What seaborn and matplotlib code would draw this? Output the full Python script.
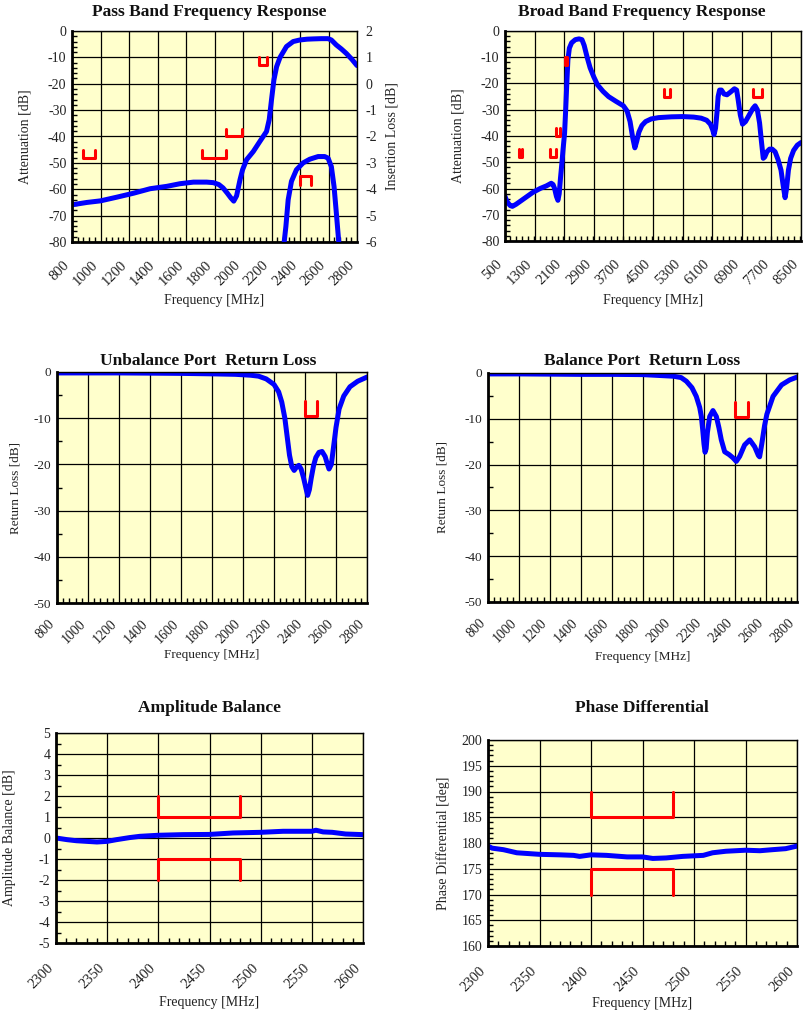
import numpy as np
import pandas as pd
import matplotlib
matplotlib.use("Agg")
import matplotlib.pyplot as plt
from matplotlib.ticker import MultipleLocator
from matplotlib.transforms import ScaledTranslation
import seaborn as sns

# ---------------- data ----------------
# Pass band (attenuation, left axis)
PB_F = [800, 905, 1000, 1115, 1232, 1348, 1465, 1558, 1652, 1745, 1792, 1830, 1860, 1890,
        1915, 1935, 1955, 1979, 1997, 2025, 2072, 2118, 2165, 2184, 2200, 2217, 2236, 2260,
        2305, 2352, 2399, 2450, 2492, 2550, 2597, 2620, 2655, 2690, 2725, 2765, 2800]
PB_ATT = [-65.9, -65.0, -64.4, -63.0, -61.5, -59.8, -58.9, -57.9, -57.3, -57.3, -57.5, -58.2,
          -59.5, -61.5, -63.3, -64.5, -62.5, -56.4, -52.6, -48.8, -45.7, -41.9, -38.1, -33.6,
          -26.1, -18.5, -13.5, -10.0, -5.9, -4.0, -3.4, -3.1, -3.0, -2.9, -2.9, -3.4, -5.3,
          -6.8, -8.5, -10.8, -13.1]
# Pass band insertion loss (right axis)
PB_IL_F = [2280, 2289, 2301, 2317, 2340, 2375, 2422, 2469, 2527, 2573, 2597, 2620, 2639,
           2655, 2672, 2680]
PB_IL = [-7.0, -6.0, -5.41, -4.4, -3.7, -3.26, -3.0, -2.86, -2.76, -2.76, -2.82, -3.14,
         -3.9, -4.9, -6.0, -7.0]
PB_XTICKS = [800, 1000, 1200, 1400, 1600, 1800, 2000, 2200, 2400, 2600, 2800]
PB_YTICKS = [0, -10, -20, -30, -40, -50, -60, -70, -80]
PB_IL_TICKS = [2, 1, 0, -1, -2, -3, -4, -5, -6]
PB_SPEC_F1 = [880, 1710, 1880, 2110]
PB_SPEC_F2 = [960, 1880, 1990, 2170]
PB_SPEC_TOP = [-45, -45, -37, -10]
PB_SPEC_BOT = [-48, -48, -40, -13]
PB_IL_SPEC_F = [2400, 2480]
PB_IL_SPEC_LIM = [-3.5, -3.85]

# Broad band
BB_F = [500, 554, 640, 700, 800, 900, 1050, 1250, 1450, 1620, 1750, 1800, 1840, 1890, 1930,
        1965, 2000, 2040, 2070, 2110, 2140, 2170, 2200, 2240, 2300, 2400, 2500, 2580, 2640,
        2720, 2800, 2900, 3000, 3150, 3300, 3500, 3700, 3800, 3880, 3950, 4010, 4060, 4120,
        4200, 4300, 4450, 4650, 5000, 5300, 5600, 5800, 5950, 6050, 6110, 6150, 6190, 6230,
        6260, 6300, 6350, 6420, 6500, 6600, 6700, 6760, 6800, 6860, 6920, 7000, 7100, 7200,
        7260, 7320, 7380, 7430, 7480, 7520, 7580, 7650, 7720, 7800, 7880, 7960, 8020, 8070,
        8110, 8160, 8220, 8300, 8400, 8500]
BB_ATT = [-63.0, -65.0, -66.5, -66.8, -66.0, -65.0, -63.5, -61.5, -60.0, -59.0, -58.0,
          -58.5, -60.0, -63.0, -64.5, -62.0, -56.0, -50.0, -45.0, -39.0, -30.0, -20.0, -11.0,
          -6.5, -4.5, -3.3, -3.0, -3.3, -5.5, -10.0, -14.0, -17.5, -20.5, -23.0, -25.0, -26.8,
          -28.5, -30.5, -34.5, -40.5, -44.5, -42.0, -38.5, -36.0, -34.5, -33.5, -33.0, -32.7,
          -32.6, -32.8, -33.2, -34.0, -35.5, -37.5, -39.5, -37.0, -31.0, -25.0, -22.5, -22.5,
          -24.0, -24.3, -23.2, -22.0, -22.5, -26.0, -32.0, -35.5, -34.5, -32.0, -29.5, -28.5,
          -30.0, -35.0, -42.0, -48.5, -48.0, -46.0, -45.0, -45.0, -46.0, -49.0, -53.0, -59.0,
          -63.5, -60.0, -53.0, -48.5, -45.5, -43.5, -42.5]
BB_XTICKS = [500, 1300, 2100, 2900, 3700, 4500, 5300, 6100, 6900, 7700, 8500]
BB_YTICKS = PB_YTICKS
BB_SPEC_F1 = [880, 1710, 1880, 2110, 4800, 7200]
BB_SPEC_F2 = [960, 1880, 1990, 2170, 4960, 7440]
BB_SPEC_TOP = [-45, -45, -37, -10, -22, -22]
BB_SPEC_BOT = [-48, -48, -40, -13, -25, -25]

# Unbalance port return loss
UR_F = [800, 1000, 1200, 1400, 1600, 1800, 1950, 2050, 2100, 2150, 2200, 2230, 2250, 2270,
        2285, 2300, 2315, 2330, 2345, 2360, 2375, 2390, 2405, 2417, 2428, 2440, 2455, 2470,
        2490, 2510, 2530, 2545, 2555, 2570, 2585, 2600, 2620, 2650, 2690, 2740, 2800]
UR_RL = [-0.2, -0.2, -0.2, -0.25, -0.3, -0.4, -0.5, -0.7, -0.9, -1.5, -2.7, -4.3, -6.5,
         -10.0, -14.0, -18.0, -20.5, -21.3, -20.6, -20.2, -21.0, -22.8, -25.0, -26.7, -25.5,
         -23.0, -20.3, -18.5, -17.4, -17.2, -18.3, -20.0, -21.0, -20.0, -16.0, -12.0, -8.0,
         -5.2, -3.2, -2.0, -1.1]
# Balance port return loss
BR_F = [800, 1000, 1200, 1400, 1600, 1800, 2000, 2050, 2084, 2120, 2148, 2170, 2181, 2190,
        2198, 2205, 2212, 2220, 2235, 2256, 2278, 2295, 2310, 2332, 2360, 2385, 2407, 2429,
        2461, 2494, 2526, 2550, 2558, 2572, 2590, 2605, 2645, 2700, 2753, 2800]
BR_RL = [-0.2, -0.2, -0.25, -0.3, -0.3, -0.35, -0.7, -1.0, -1.8, -3.2, -5.1, -7.5, -9.5,
         -12.5, -15.5, -17.3, -16.5, -13.0, -9.5, -8.2, -9.5, -12.0, -14.6, -17.2, -17.8,
         -18.5, -19.3, -18.2, -15.7, -14.6, -16.1, -18.0, -18.3, -15.5, -11.5, -9.0, -5.1,
         -2.6, -1.5, -0.9]
RL_XTICKS = PB_XTICKS
RL_YTICKS = [0, -10, -20, -30, -40, -50]
RL_SPEC_F = [2400, 2480]
RL_SPEC_TOP = -6.3
RL_SPEC_BOT = -9.5

# Amplitude balance
AB_F = [2300, 2311, 2320, 2340, 2350, 2359, 2372, 2382, 2400, 2424, 2450, 2473, 2500, 2522,
        2550, 2554, 2561, 2570, 2583, 2600]
AB_DB = [0.0, -0.08, -0.13, -0.19, -0.16, -0.08, 0.02, 0.08, 0.13, 0.16, 0.17, 0.24, 0.27,
         0.32, 0.32, 0.37, 0.29, 0.27, 0.19, 0.16]
AB_XTICKS = [2300, 2350, 2400, 2450, 2500, 2550, 2600]
AB_YTICKS = [5, 4, 3, 2, 1, 0, -1, -2, -3, -4, -5]
AB_SPEC_F = [2400, 2480]
AB_SPEC_UP = [2, 1]
AB_SPEC_LO = [-1, -2]

# Phase differential
PD_F = [2300, 2304, 2315, 2328, 2350, 2370, 2383, 2389, 2400, 2415, 2435, 2450, 2460, 2473,
        2489, 2509, 2518, 2531, 2550, 2564, 2576, 2589, 2600]
PD_DEG = [179.4, 179.0, 178.7, 178.1, 177.8, 177.7, 177.6, 177.4, 177.7, 177.6, 177.3,
          177.3, 177.0, 177.1, 177.4, 177.6, 178.1, 178.4, 178.6, 178.5, 178.7, 178.9, 179.4]
PD_XTICKS = AB_XTICKS
PD_YTICKS = [200, 195, 190, 185, 180, 175, 170, 165, 160]
PD_SPEC_F = [2400, 2480]
PD_SPEC_UP = [190, 185]
PD_SPEC_LO = [175, 170]

# ---------------- style ----------------
sns.set_theme(style="ticks")
plt.rcParams["font.family"] = ["Liberation Serif", "DejaVu Serif"]

BG = "#FFFFCC"
BLUE = "#0000FF"
RED = "#FF0000"
W, H = 806, 1011
fig = plt.figure(figsize=(W / 100, H / 100), dpi=100)


def add_ax(l, r, t, b):
    return fig.add_axes([l / W, 1 - b / H, (r - l) / W, (b - t) / H])


def style(ax, xticks, xminor, yticks, yminor, xlabel, ylabel, xl_y, yl_x, fs=10.5, yfs=10,
          lfs=10, xpad=12, xshift=-5):
    ax.set_facecolor(BG)
    ax.set_axisbelow(True)
    ax.set_xlim(min(xticks), max(xticks))
    ax.set_ylim(min(yticks), max(yticks))
    ax.set_xticks(xticks)
    ax.set_xticklabels([str(v) for v in xticks], rotation=45, ha="right", va="top",
                       fontsize=fs)
    off = ScaledTranslation(xshift / 100, 0, fig.dpi_scale_trans)
    for lab in ax.get_xticklabels():
        lab.set_transform(lab.get_transform() + off)
    ax.set_yticks(yticks)
    ax.set_yticklabels([str(v) for v in yticks], fontsize=yfs)
    ax.xaxis.set_minor_locator(MultipleLocator(xminor))
    ax.yaxis.set_minor_locator(MultipleLocator(yminor))
    ax.tick_params(which="major", direction="in", length=0, pad=4, colors="#222222")
    ax.tick_params(axis="x", which="major", pad=xpad)
    ax.tick_params(which="minor", direction="in", length=3.5, width=1.0, color="black")
    ax.grid(True, which="major", color="black", linewidth=0.9)
    for s in ["left", "bottom"]:
        ax.spines[s].set_linewidth(2.0)
        ax.spines[s].set_color("black")
    for s in ["top", "right"]:
        ax.spines[s].set_linewidth(1.0)
        ax.spines[s].set_color("black")
    ax.set_xlabel(xlabel, fontsize=lfs, color="#222222")
    ax.set_ylabel(ylabel, fontsize=lfs, color="#222222")
    ax.xaxis.set_label_coords(0.5, xl_y)
    ax.xaxis.label.set_va("center")
    ax.yaxis.set_label_coords(yl_x, 0.5)
    ax.yaxis.label.set_va("center")


def title(x, y, text):
    fig.text(x / W, 1 - y / H, text, ha="center", va="center", fontsize=12.5,
             fontweight="bold", color="#111111")


def curve(ax, f, v):
    df = pd.DataFrame({"f": f, "v": v})
    sns.lineplot(data=df, x="f", y="v", ax=ax, color=BLUE, linewidth=3.6,
                 estimator=None, sort=False, legend=False)


def spec_cup(ax, f1, f2, top, bot):
    df = pd.DataFrame({"f": [f1, f1, f2, f2], "v": [top, bot, bot, top]})
    sns.lineplot(data=df, x="f", y="v", ax=ax, color=RED, linewidth=2.2,
                 estimator=None, sort=False, legend=False)


def spec_cap(ax, f1, f2, top, bot):
    df = pd.DataFrame({"f": [f1, f1, f2, f2], "v": [bot, top, top, bot]})
    sns.lineplot(data=df, x="f", y="v", ax=ax, color=RED, linewidth=2.2,
                 estimator=None, sort=False, legend=False)


# ---- Chart 1: pass band ----
ax1 = add_ax(72, 357, 31, 242)
curve(ax1, PB_F, PB_ATT)
for a, b, t, bo in zip(PB_SPEC_F1, PB_SPEC_F2, PB_SPEC_TOP, PB_SPEC_BOT):
    spec_cup(ax1, a, b, t, bo)
style(ax1, PB_XTICKS, 40, PB_YTICKS, 2, "Frequency [MHz]", "Attenuation [dB]",
      -0.275, -0.165)
ax1b = ax1.twinx()
curve(ax1b, PB_IL_F, PB_IL)
spec_cap(ax1b, PB_IL_SPEC_F[0], PB_IL_SPEC_F[1], PB_IL_SPEC_LIM[0], PB_IL_SPEC_LIM[1])
ax1b.set_ylim(min(PB_IL_TICKS), max(PB_IL_TICKS))
ax1b.set_yticks(PB_IL_TICKS)
ax1b.set_yticklabels([str(v) for v in PB_IL_TICKS], fontsize=10)
ax1b.tick_params(direction="in", length=0, pad=6, colors="#222222")
ax1b.set_ylabel("Insertion Loss [dB]", fontsize=10, color="#222222")
ax1b.yaxis.set_label_coords(1.123, 0.5)
ax1b.yaxis.label.set_va("center")
ax1b.grid(False)
for s in ax1b.spines.values():
    s.set_visible(False)
title(209, 12, "Pass Band Frequency Response")

# ---- Chart 2: broad band ----
ax2 = add_ax(505, 801, 31, 241)
curve(ax2, BB_F, BB_ATT)
for a, b, t, bo in zip(BB_SPEC_F1, BB_SPEC_F2, BB_SPEC_TOP, BB_SPEC_BOT):
    spec_cup(ax2, a, b, t, bo)
style(ax2, BB_XTICKS, 160, BB_YTICKS, 2, "Frequency [MHz]", "Attenuation [dB]",
      -0.281, -0.159)
title(642, 12, "Broad Band Frequency Response")

# ---- Chart 3: unbalance port RL ----
ax3 = add_ax(57, 367, 372, 603)
curve(ax3, UR_F, UR_RL)
spec_cup(ax3, RL_SPEC_F[0], RL_SPEC_F[1], RL_SPEC_TOP, RL_SPEC_BOT)
style(ax3, RL_XTICKS, 40, RL_YTICKS, 5, "Frequency [MHz]", "Return Loss [dB]",
      -0.225, -0.135, fs=10, yfs=9.5, lfs=9.5, xpad=10.5, xshift=-4)
title(208, 361, "Unbalance Port  Return Loss")

# ---- Chart 4: balance port RL ----
ax4 = add_ax(488, 797, 373, 602)
curve(ax4, BR_F, BR_RL)
spec_cup(ax4, RL_SPEC_F[0], RL_SPEC_F[1], RL_SPEC_TOP, RL_SPEC_BOT)
style(ax4, RL_XTICKS, 40, RL_YTICKS, 5, "Frequency [MHz]", "Return Loss [dB]",
      -0.24, -0.146, fs=10, yfs=9.5, lfs=9.5, xpad=10.5, xshift=-4)
title(642, 361, "Balance Port  Return Loss")

# ---- Chart 5: amplitude balance ----
ax5 = add_ax(56, 363, 733, 943)
curve(ax5, AB_F, AB_DB)
spec_cup(ax5, AB_SPEC_F[0], AB_SPEC_F[1], AB_SPEC_UP[0], AB_SPEC_UP[1])
spec_cap(ax5, AB_SPEC_F[0], AB_SPEC_F[1], AB_SPEC_LO[0], AB_SPEC_LO[1])
style(ax5, AB_XTICKS, 10, AB_YTICKS, 0.5, "Frequency [MHz]", "Amplitude Balance [dB]",
      -0.281, -0.153, xpad=13)
title(209, 708, "Amplitude Balance")

# ---- Chart 6: phase differential ----
ax6 = add_ax(488, 797, 740, 946)
curve(ax6, PD_F, PD_DEG)
spec_cup(ax6, PD_SPEC_F[0], PD_SPEC_F[1], PD_SPEC_UP[0], PD_SPEC_UP[1])
spec_cap(ax6, PD_SPEC_F[0], PD_SPEC_F[1], PD_SPEC_LO[0], PD_SPEC_LO[1])
style(ax6, PD_XTICKS, 10, PD_YTICKS, 1, "Frequency [MHz]", "Phase Differential [deg]",
      -0.277, -0.146, xpad=13)
title(642, 708, "Phase Differential")

fig.savefig("out.png", dpi=100, facecolor="white")
